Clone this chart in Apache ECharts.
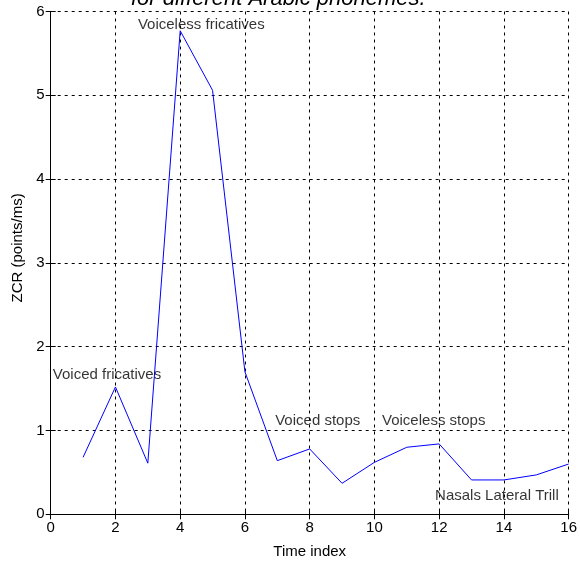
<!DOCTYPE html>
<html>
<head>
<meta charset="utf-8">
<script src="https://cdn.jsdelivr.net/npm/echarts@6/dist/echarts.min.js"></script>
<style>html,body{margin:0;padding:0;background:#fff;overflow:hidden;}#c{width:580px;height:567px;}</style>
</head>
<body>
<div id="c"></div>
<script>
const timeIndex = [1,2,3,4,5,6,7,8,9,10,11,12,13,14,15,16];
const zcrValues = [0.68,1.52,0.61,5.77,5.06,1.70,0.64,0.78,0.37,0.62,0.80,0.84,0.41,0.41,0.47,0.60];
const annotationX = [0.08, 2.71, 6.95, 10.25, 11.89];
const annotationY = [1.66, 5.84, 1.11, 1.11, 0.21];
const annotationText = ['Voiced fricatives','Voiceless fricatives','Voiced stops','Voiceless stops','Nasals Lateral Trill'];
const titleText = 'for different Arabic phonemes.';
const xName = 'Time index';
const yName = 'ZCR (points/ms)';

const FONT = "'Liberation Sans',Arial,sans-serif";

const chart = echarts.init(document.getElementById('c'), null, {renderer:'canvas'});
const gridLine = {show:true, lineStyle:{color:'#000', type:[3,4], width:1}};
const axisLineStyle = {show:true, lineStyle:{color:'#000', width:1}};
const tickIn = {show:true, inside:true, length:5, lineStyle:{color:'#000'}};

chart.setOption({
  backgroundColor:'#fff',
  animation:false,
  title:{
    text:titleText, left:126, top:-17,
    textStyle:{fontFamily:FONT, fontStyle:'italic', fontWeight:'normal', fontSize:22, color:'#000'}
  },
  grid:{left:50.7, right:8.5, top:11.5, bottom:52.7, containLabel:false},
  xAxis:[{
    type:'value', min:0, max:16, interval:2,
    name:xName, nameLocation:'middle', nameGap:30,
    nameTextStyle:{fontFamily:FONT, fontSize:15, color:'#000'},
    axisLine:axisLineStyle, axisTick:tickIn,
    axisLabel:{fontFamily:FONT, fontSize:15, color:'#000', margin:6},
    splitLine:gridLine
  },{
    type:'value', min:0, max:16, interval:2, position:'top',
    axisLine:axisLineStyle, axisTick:tickIn, axisLabel:{show:false}, splitLine:{show:false}
  }],
  yAxis:[{
    type:'value', min:0, max:6, interval:1,
    name:yName, nameLocation:'middle', nameGap:24, nameRotate:90,
    nameTextStyle:{fontFamily:FONT, fontSize:15, color:'#000', padding:[0,0,0,30]},
    axisLine:axisLineStyle, axisTick:tickIn,
    axisLabel:{fontFamily:FONT, fontSize:15, color:'#000', margin:6},
    splitLine:gridLine
  },{
    type:'value', min:0, max:6, interval:1, position:'right',
    axisLine:axisLineStyle, axisTick:tickIn, axisLabel:{show:false}, splitLine:{show:false}
  }],
  series:[{
    type:'line',
    data:timeIndex.map((t,i)=>[t, zcrValues[i]]),
    showSymbol:false, symbol:'none',
    lineStyle:{color:'#0000ff', width:1},
    z:3
  },{
    type:'scatter',
    data:annotationX.map((x,i)=>({value:[x, annotationY[i]], name:annotationText[i]})),
    symbolSize:1,
    itemStyle:{color:'rgba(0,0,0,0)'},
    label:{show:true, position:[0,0], align:'left', verticalAlign:'middle',
      formatter:'{b}', fontFamily:FONT, fontSize:15, color:'#000'},
    z:4, silent:true
  }]
});
</script>
</body>
</html>
